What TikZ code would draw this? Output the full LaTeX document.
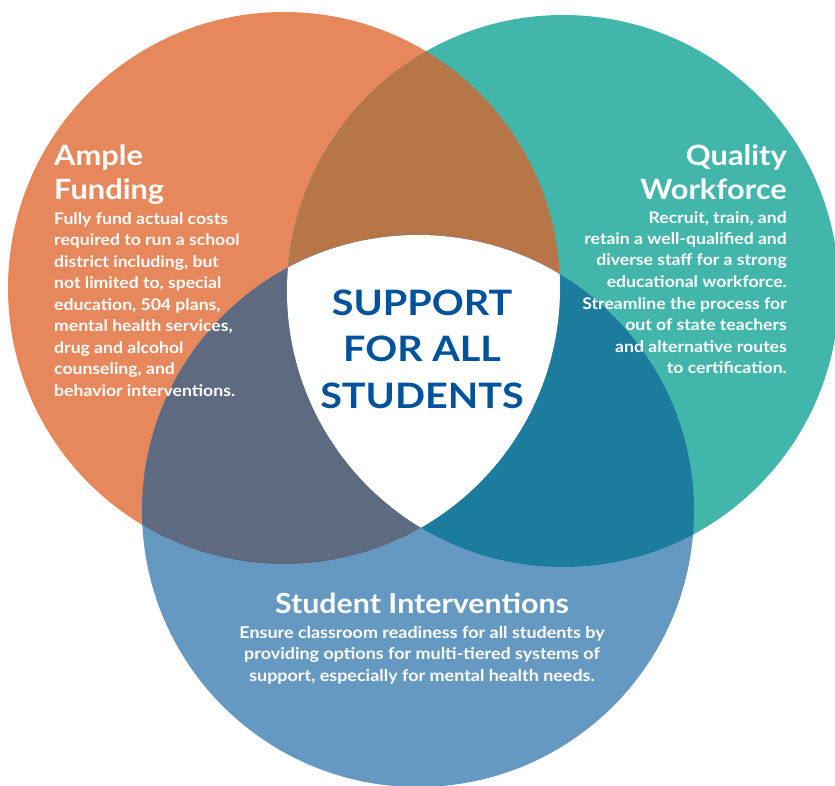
\documentclass[tikz,border=0pt]{standalone}
\usepackage{fontspec}
\setmainfont{Lato}[FakeStretch=1.1]
\newfontfamily\centerfont{Lato}[FakeStretch=1.13]
\definecolor{orangeC}{HTML}{E6875C}
\definecolor{tealC}{HTML}{43B6AC}
\definecolor{blueC}{HTML}{6699C2}
\definecolor{otC}{HTML}{B67648}
\definecolor{obC}{HTML}{5E6A80}
\definecolor{tbC}{HTML}{1C7C9E}
\definecolor{textblue}{HTML}{00539A}
\begin{document}
\begin{tikzpicture}[x=1pt,y=-1pt,
  titletext/.style={inner sep=0pt,text=white,font=\fontsize{28}{34}\selectfont\bfseries},
  bodytext/.style={inner sep=0pt,text=white,font=\fontsize{16}{21.5}\selectfont\bfseries},
  centertext/.style={inner sep=0pt,text=textblue,align=center,font=\centerfont\fontsize{35}{46.5}\selectfont\bfseries}]
\useasboundingbox (0,0) rectangle (835,786);
\def\circO{(284,288) circle[radius=276pt]}
\def\circT{(563,291) circle[radius=276pt]}
\def\circB{(418,511) circle[radius=276pt]}
% base circles
\fill[orangeC] \circO;
\fill[tealC] \circT;
\fill[blueC] \circB;
% pairwise overlaps
\begin{scope}
  \clip \circO;
  \fill[otC] \circT;
  \fill[obC] \circB;
\end{scope}
\begin{scope}
  \clip \circT;
  \fill[tbC] \circB;
\end{scope}
% triple overlap
\begin{scope}
  \clip \circO;
  \clip \circT;
  \fill[white] \circB;
\end{scope}
% texts (base anchor = baseline of last line)
\node[titletext,anchor=base west,align=left] (af) at (54,200) {Ample\\Funding};
\node[bodytext,anchor=base west,align=left] (afb) at (54,396) {Fully fund actual costs\\required to run a school\\district including, but\\not limited to, special\\education, 504 plans,\\mental health services,\\drug and alcohol\\counseling, and\\behavior interventions.};
\node[titletext,anchor=base east,align=right] (qw) at (787,200) {Quality\\Workforce};
\node[bodytext,anchor=base east,align=right] (qwb) at (787,373.5) {Recruit, train, and\\retain a well-qualified and\\diverse staff for a strong\\educational workforce.\\Streamline the process for\\out of state teachers\\and alternative routes\\to certification.};
\node[titletext,anchor=base,align=center,font=\fontsize{27.6}{34}\selectfont\bfseries] (si) at (422,613) {Student Interventions};
\node[bodytext,anchor=base,align=center,font=\fontsize{16.3}{21.5}\selectfont\bfseries] (sib) at (422,681) {Ensure classroom readiness for all students by\\providing options for multi-tiered systems of\\support, especially for mental health needs.};
\node[centertext,anchor=base] (sup) at (422,408) {SUPPORT\\FOR ALL\\STUDENTS};
\end{tikzpicture}
\end{document}
